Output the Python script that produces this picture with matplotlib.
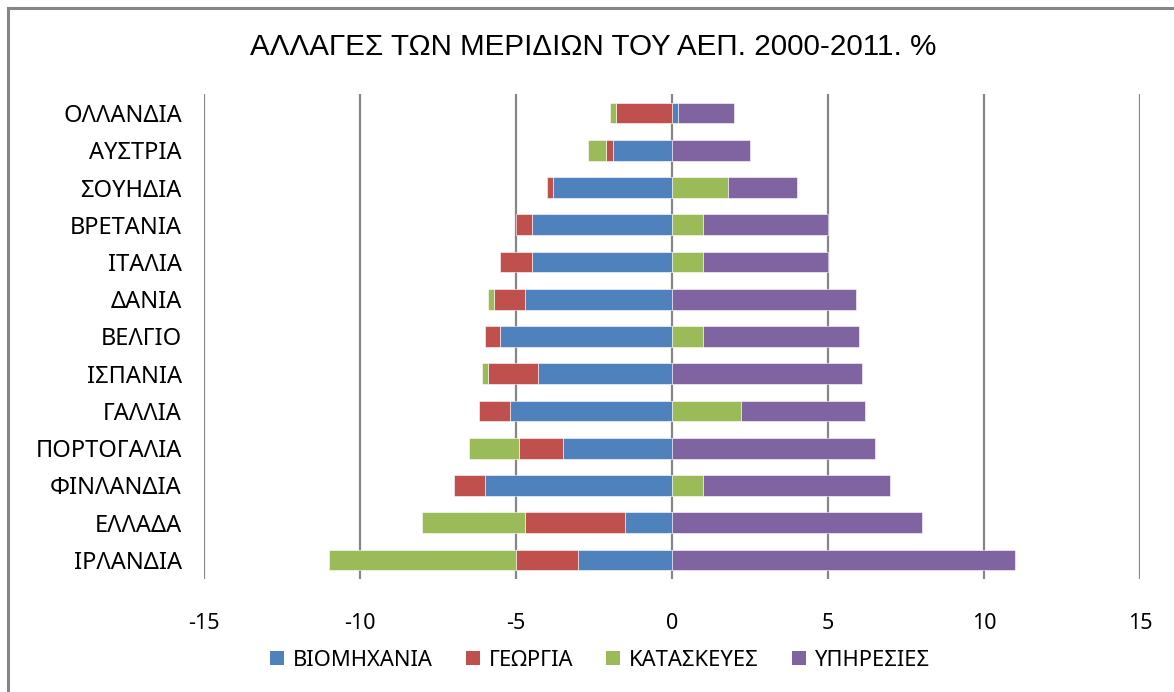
import numpy as np
import matplotlib
matplotlib.use("Agg")
import matplotlib.pyplot as plt
from matplotlib.lines import Line2D
from matplotlib.patches import Patch

# categories, bottom to top
countries = ["ΙΡΛΑΝΔΙΑ", "ΕΛΛΑΔΑ", "ΦΙΝΛΑΝΔΙΑ", "ΠΟΡΤΟΓΑΛΙΑ", "ΓΑΛΛΙΑ", "ΙΣΠΑΝΙΑ",
             "ΒΕΛΓΙΟ", "ΔΑΝΙΑ", "ΙΤΑΛΙΑ", "ΒΡΕΤΑΝΙΑ", "ΣΟΥΗΔΙΑ", "ΑΥΣΤΡΙΑ", "ΟΛΛΑΝΔΙΑ"]
industry = [-3.0, -1.5, -6.0, -3.5, -5.2, -4.3, -5.5, -4.7, -4.5, -4.5, -3.8, -1.9, 0.2]
agriculture = [-2.0, -3.2, -1.0, -1.4, -1.0, -1.6, -0.5, -1.0, -1.0, -0.5, -0.2, -0.2, -1.8]
construction = [-6.0, -3.3, 1.0, -1.6, 2.2, -0.2, 1.0, -0.2, 1.0, 1.0, 1.8, -0.6, -0.2]
services = [11.0, 8.0, 6.0, 6.5, 4.0, 6.1, 5.0, 5.9, 4.0, 4.0, 2.2, 2.5, 1.8]

series_names = ["ΒΙΟΜΗΧΑΝΙΑ", "ΓΕΩΡΓΙΑ", "ΚΑΤΑΣΚΕΥΕΣ", "ΥΠΗΡΕΣΙΕΣ"]
colors = ["#4F81BD", "#C0504D", "#9BBB59", "#8064A2"]
xticks = [-15, -10, -5, 0, 5, 10, 15]

fig = plt.figure(figsize=(11.74, 6.92), dpi=100)
ax = fig.add_axes([0.1738, 0.1639, 0.7972, 0.6997])

y = np.arange(len(countries))
pos_base = np.zeros(len(countries))
neg_base = np.zeros(len(countries))
for vals, name, col in zip([industry, agriculture, construction, services], series_names, colors):
    v = np.array(vals)
    left = np.where(v >= 0, pos_base, neg_base)
    ax.barh(y, v, left=left, height=0.56, color=col, edgecolor="white", linewidth=0.4,
            label=name, zorder=3)
    pos_base += np.where(v >= 0, v, 0)
    neg_base += np.where(v < 0, v, 0)

ax.set_xlim(-15, 15)
ax.set_ylim(-0.5, len(countries) - 0.5)
ax.set_xticks(xticks)
ax.set_xticklabels([str(t) for t in xticks], fontsize=15.5, family=["Noto Sans", "DejaVu Sans"])
ax.set_yticks(y)
ax.set_yticklabels(countries, fontsize=17, family=["Noto Sans", "DejaVu Sans"])
ax.tick_params(axis="both", length=0)
ax.tick_params(axis="y", pad=16)
ax.tick_params(axis="x", pad=25)
for s in ax.spines.values():
    s.set_visible(False)
ax.grid(axis="x", color="#868686", linewidth=1.6, zorder=1)
ax.grid(axis="y", visible=False)

fig.text(0.505, 0.932, "ΑΛΛΑΓΕΣ ΤΩΝ ΜΕΡΙΔΙΩΝ ΤΟΥ ΑΕΠ. 2000-2011. %", ha="center", va="center",
         fontsize=21.3, family=["Liberation Sans", "DejaVu Sans"])

handles = [Patch(facecolor=c, edgecolor="none") for c in colors]
fig.legend(handles, series_names, loc="center", bbox_to_anchor=(0.511, 0.046), ncol=4,
           frameon=False, handlelength=0.65, handleheight=0.65, handletextpad=0.4,
           columnspacing=1.5, prop={"family": ["Noto Sans", "DejaVu Sans"], "size": 15.8})

# outer chart border
fig.add_artist(Line2D([0.0068, 0.0068], [0.0, 0.9885], color="#868686", linewidth=2.2))
fig.add_artist(Line2D([0.0068, 1.0], [0.9885, 0.9885], color="#868686", linewidth=2.2))

fig.savefig("out.png", dpi=100)
